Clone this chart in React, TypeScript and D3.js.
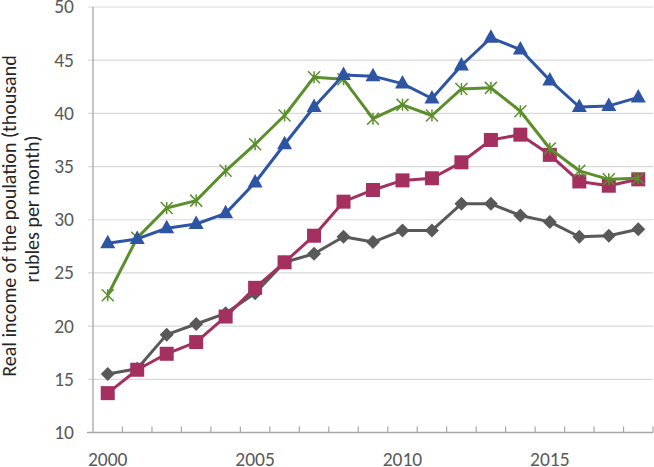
import React from "react";
import * as d3 from "d3";

const years = d3.range(2000, 2019);
const yTicks = [10, 15, 20, 25, 30, 35, 40, 45, 50];
const xLabels = [2000, 2005, 2010, 2015];

const grayValues = [15.5, 16.0, 19.2, 20.2, 21.2, 23.1, 26.0, 26.8, 28.4, 27.9, 29.0, 29.0, 31.5, 31.5, 30.4, 29.8, 28.4, 28.5, 29.1];
const magentaValues = [13.7, 15.9, 17.4, 18.5, 20.9, 23.6, 26.0, 28.5, 31.7, 32.8, 33.7, 33.9, 35.4, 37.5, 38.0, 36.1, 33.6, 33.2, 33.8];
const greenValues = [22.9, 28.3, 31.1, 31.8, 34.6, 37.1, 39.8, 43.4, 43.2, 39.5, 40.8, 39.8, 42.3, 42.4, 40.2, 36.7, 34.6, 33.8, 33.9];
const blueValues = [27.8, 28.2, 29.2, 29.6, 30.6, 33.5, 37.1, 40.6, 43.6, 43.5, 42.8, 41.4, 44.5, 47.1, 46.0, 43.1, 40.6, 40.7, 41.5];

const W = 654;
const H = 467;
const FONT = "Carlito, 'Open Sans', sans-serif";

type Marker = "diamond" | "square" | "star" | "triangle";
const series: { name: string; values: number[]; color: string; marker: Marker }[] = [
  { name: "gray", values: grayValues, color: "#595959", marker: "diamond" },
  { name: "magenta", values: magentaValues, color: "#A3305F", marker: "square" },
  { name: "green", values: greenValues, color: "#5B8F2C", marker: "star" },
  { name: "blue", values: blueValues, color: "#2E55A3", marker: "triangle" },
];

export default function App() {
  const left = 93, right = 653, top = 7, bottom = 432.5;
  const x = d3.scaleBand<number>().domain(years).range([left, right]);
  const cx = (yr: number) => (x(yr) as number) + x.bandwidth() / 2;
  const y = d3.scaleLinear().domain([10, 50]).range([bottom, top]);
  const line = d3.line<number>().x((_, i) => cx(years[i])).y((v) => y(v));

  const drawMarker = (m: Marker, px: number, py: number, color: string, key: string) => {
    if (m === "square") return <rect key={key} x={px - 7} y={py - 7} width={14} height={14} fill={color} />;
    if (m === "diamond") return <path key={key} d={`M${px},${py - 7}L${px + 7},${py}L${px},${py + 7}L${px - 7},${py}Z`} fill={color} />;
    if (m === "triangle") return <path key={key} d={`M${px},${py - 8.5}L${px + 7.5},${py + 5}L${px - 7.5},${py + 5}Z`} fill={color} />;
    const s = 6;
    return (
      <path key={key} d={`M${px - s},${py - s}L${px + s},${py + s}M${px - s},${py + s}L${px + s},${py - s}M${px},${py - s}L${px},${py + s}`} stroke={color} strokeWidth={1.5} fill="none" />
    );
  };

  return (
    <svg width={W} height={H} style={{ position: "absolute", left: 0, top: 0, background: "#fff" }} fontFamily={FONT}>
      {yTicks.map((t) => (
        <line key={"g" + t} x1={left - 5} x2={right} y1={y(t)} y2={y(t)} stroke="#D9D9D9" strokeWidth={1.2} />
      ))}
      <line x1={left} x2={left} y1={top} y2={bottom} stroke="#A6A6A6" strokeWidth={1.3} />
      <line x1={left - 6} x2={right} y1={bottom} y2={bottom} stroke="#A6A6A6" strokeWidth={1.3} />
      {years.map((yr) => (
        <line key={"t" + yr} x1={(x(yr) as number) + x.bandwidth()} x2={(x(yr) as number) + x.bandwidth()} y1={bottom} y2={bottom - 6} stroke="#A6A6A6" strokeWidth={1.2} />
      ))}
      {yTicks.map((t) => (
        <text key={"yl" + t} x={74} y={y(t)} dy="0.33em" textAnchor="end" fontSize={19.5} fill="#595959">{t}</text>
      ))}
      {xLabels.map((yr) => (
        <text key={"xl" + yr} x={cx(yr)} y={466} textAnchor="middle" fontSize={19.5} fill="#595959">{yr}</text>
      ))}
      <text transform={`translate(16,${216}) rotate(-90)`} textAnchor="middle" fontSize={20} fill="#262626">
        Real income of the poulation (thousand
      </text>
      <text transform={`translate(39,${209}) rotate(-90)`} textAnchor="middle" fontSize={20} fill="#262626">
        rubles per month)
      </text>
      {series.map((s) => (
        <g key={s.name}>
          <path d={line(s.values) || ""} fill="none" stroke={s.color} strokeWidth={3} strokeLinejoin="round" />
          {s.values.map((v, i) => drawMarker(s.marker, cx(years[i]), y(v), s.color, s.name + i))}
        </g>
      ))}
    </svg>
  );
}
